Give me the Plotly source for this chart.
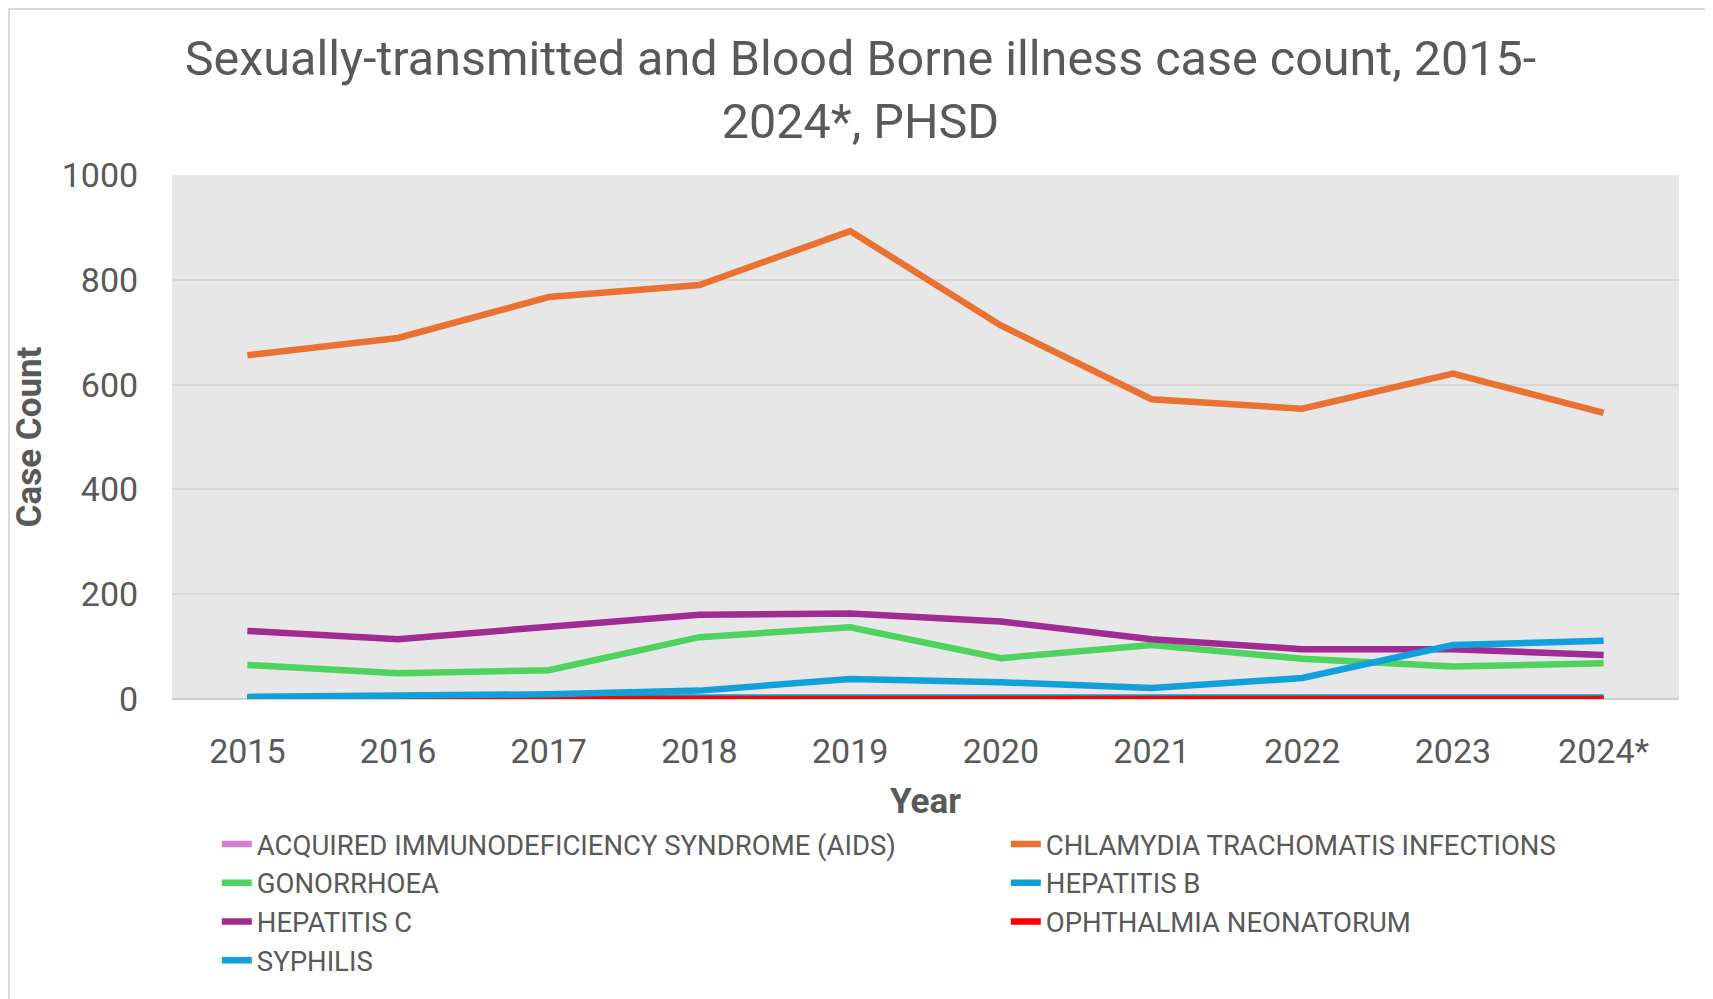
import plotly.graph_objects as go

years = ["2015", "2016", "2017", "2018", "2019", "2020", "2021", "2022", "2023", "2024*"]

aids = [0, 0, 0, 0, 0, 0, 0, 0, 0, 0]
chlamydia = [656, 689, 767, 790, 893, 713, 572, 554, 621, 546]
gonorrhoea = [65, 49, 55, 118, 137, 78, 103, 77, 62, 68]
hep_b = [3, 3, 3, 3, 3, 3, 2, 2, 3, 3]
hep_c = [130, 114, 138, 161, 163, 148, 114, 95, 95, 84]
ophthalmia = [0, 0, 0, 0, 0, 0, 0, 0, 1, 0]
syphilis = [4, 5, 9, 16, 38, 32, 21, 40, 103, 111]

series = [
    ("ACQUIRED IMMUNODEFICIENCY SYNDROME (AIDS)", aids, "#D47FCB"),
    ("CHLAMYDIA TRACHOMATIS INFECTIONS", chlamydia, "#E97132"),
    ("GONORRHOEA", gonorrhoea, "#4ED35E"),
    ("HEPATITIS B", hep_b, "#0F9ED5"),
    ("HEPATITIS C", hep_c, "#A02B93"),
    ("OPHTHALMIA NEONATORUM", ophthalmia, "#FF0000"),
    ("SYPHILIS", syphilis, "#12A0DA"),
]

fig = go.Figure()
for name, vals, col in series:
    fig.add_trace(go.Scatter(x=years, y=vals, name=name, mode="lines",
                             line=dict(color=col, width=6.5)))

grey = "#595959"
# page body adds 8px offset, so the figure is a bit smaller than the window
W, H = 1705, 991
L, R, T, B = 164, 34, 167, 300
pw, ph = W - L - R, H - T - B

fig.update_layout(
    width=W, height=H,
    margin=dict(l=L, r=R, t=T, b=B),
    paper_bgcolor="white",
    plot_bgcolor="#E7E7E7",
    font=dict(family="Roboto", color=grey),
    title=dict(text="Sexually-transmitted and Blood Borne illness case count, 2015-<br>2024*, PHSD",
               x=0.5, xanchor="center", y=0.932, yanchor="middle",
               font=dict(size=48.5, color=grey)),
    showlegend=True,
    legend=dict(orientation="h", x=-0.026, xanchor="left", y=-0.230, yanchor="top",
                entrywidth=660, entrywidthmode="pixels", indentation=84,
                font=dict(size=27.5, color=grey), itemwidth=30,
                bgcolor="rgba(0,0,0,0)"),
)
fig.update_xaxes(type="category", range=[-0.5, 9.5], showgrid=False,
                 ticks="outside", ticklen=22, tickcolor="rgba(0,0,0,0)",
                 tickfont=dict(size=34, color=grey),
                 title=dict(text="<b>Year</b>", font=dict(size=35, color=grey), standoff=18),
                 showline=False, zeroline=False)
fig.update_yaxes(range=[0, 1000], dtick=200, showgrid=True, gridcolor="#D6D6D6", gridwidth=2,
                 ticks="outside", ticklen=26, tickcolor="rgba(0,0,0,0)",
                 tickfont=dict(size=34, color=grey),
                 title=dict(text="<b>Case Count</b>", font=dict(size=35, color=grey), standoff=9),
                 zeroline=True, zerolinecolor="#CFCFCF", zerolinewidth=2, showline=False)

# light frame around the chart area
fig.add_shape(type="rect", xref="paper", yref="paper",
              x0=-(L - 1) / pw, x1=(pw + R - 2) / pw, y0=-(B + 20) / ph, y1=1 + (T - 1) / ph,
              line=dict(color="#D9D9D9", width=2), fillcolor="rgba(0,0,0,0)", layer="below")

fig.write_html("out.html")
